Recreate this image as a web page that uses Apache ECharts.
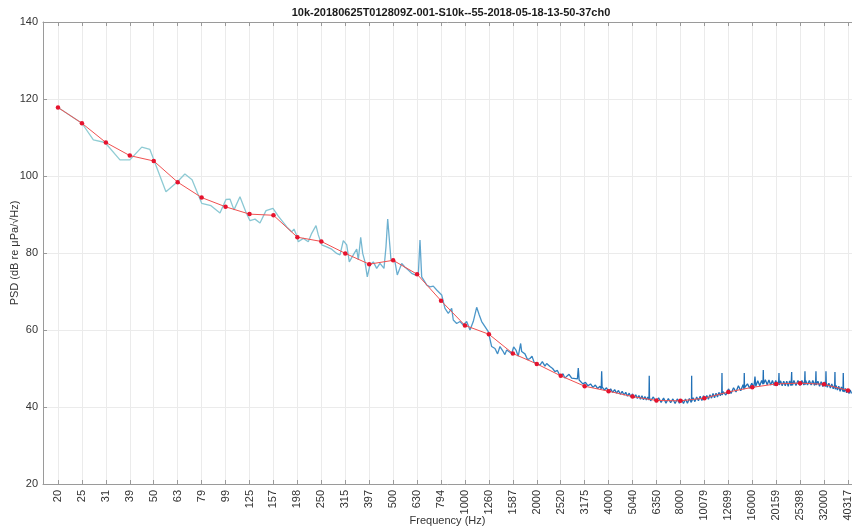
<!DOCTYPE html>
<html><head><meta charset="utf-8">
<script src="https://cdn.jsdelivr.net/npm/echarts@6/dist/echarts.min.js"></script>
<style>html,body{margin:0;padding:0;background:#fff}#c{width:852px;height:531px}</style>
</head><body><div id="c"></div>
<script>
const chartTitle = '10k-20180625T012809Z-001-S10k--55-2018-05-18-13-50-37ch0';
const xName = 'Frequency (Hz)';
const yName = 'PSD (dB re \u03bcPa/\u221aHz)';

// third-octave band centres (Hz) and their tick labels
const bandHz = [19.686, 24.803, 31.25, 39.373, 49.606, 62.5, 78.745, 99.213, 125, 157.49, 198.43, 250, 314.98, 396.85, 500, 629.96, 793.70, 1000, 1259.92, 1587.40, 2000, 2519.84, 3174.80, 4000, 5039.68, 6349.60, 8000, 10079.37, 12699.21, 16000, 20158.74, 25398.42, 32000, 40317.47];
const tickLabels = ['20','25','31','39','50','63','79','99','125','157','198','250','315','397','500','630','794','1000','1260','1587','2000','2520','3175','4000','5040','6350','8000','10079','12699','16000','20159','25398','32000','40317'];
// band levels (dB) — red markers
const bandDb = [117.8, 113.7, 108.7, 105.3, 103.9, 98.4, 94.4, 92.0, 90.1, 89.8, 84.1, 83.0, 79.9, 77.1, 78.1, 74.5, 67.6, 61.2, 58.9, 53.9, 51.2, 48.1, 45.4, 44.1, 42.7, 41.7, 41.6, 42.3, 43.9, 45.1, 46.0, 46.2, 45.9, 44.3];

// PSD trace: [frequency Hz, level dB]
const psdLow = [[19.7,117.8],[24.8,113.7],[27.7,109.4],[31,108.7],[35.8,104.2],[39.4,104.2],[44.2,107.5],[47.8,106.9],[55.8,95.9],[61.9,98.3],[67,100.5],[71.8,99.0],[78.8,92.9],[86.2,92.3],[94,90.4],[99.6,93.9],[103.5,94.0],[107.6,91.2],[114,94.6],[120.8,90.6],[125.6,88.4],[131.8,88.8],[138.3,87.8],[146.6,91.0],[156.8,91.6],[165,89.6],[179.5,86.7],[187.8,85.5],[192,86.2],[197.6,84.4]];
const psdMid = [[200.1,82.9],[210.1,83.8],[220.4,82.9],[227.8,85.1],[237.5,87.1],[242.8,84.7],[250.9,82.1],[263.3,81.6],[276.3,81.0],[290,79.9],[299.4,79.5],[309.1,83.2],[319.4,82.1],[327.5,77.7],[340.4,79.5],[351.8,81.0],[357.2,78.2],[365.6,84.1],[372.7,79.9],[381,77.7],[389.6,73.8],[399.9,76.9],[412.8,77.7],[426.6,76.0],[440.4,77.3],[457.7,76.0],[466.6,81.6],[474.4,88.8],[481.8,88.8],[489.8,78.2],[509,77.7],[520.4,74.3],[543,77.3],[560.6,76.3],[578.7,75.6],[598,74.7],[617.4,74.3],[637.4,74.3],[647.9,83.4],[658.6,73.8],[691.1,71.7],[713.5,71.2],[736.6,71.4],[761.2,70.4]];
const psdUpper = [[798.7,69.1],[824.6,65.6],[851.3,64.3],[879.7,65.6],[893.4,62.6],[923.2,61.7],[953.1,62.2],[984,61.3],[1016.7,62.2],[1049.6,60.0],[1083.5,62.2],[1119.6,65.9],[1148.1,63.9],[1175,62.2],[1213.1,60.9],[1252.3,59.6],[1294.1,55.7],[1336,55.2],[1370,53.8],[1402,55.7],[1440,54.6],[1470,53.6],[1495.5,54.8],[1569.4,53.9],[1600,55.6],[1636,54.8],[1672.7,53.2],[1711.9,56.5],[1728.5,54.4],[1784.4,53.8],[1830,52.3],[1872.6,52.6],[1910,53.2],[1950,51.6],[1984.2,51.3],[2062.3,50.9],[2110,51.8],[2164,50.6],[2199.8,51.3],[2271,50.5],[2330,50.0],[2383.3,49.2],[2440,49.5],[2501,48.1],[2580,48.6],[2620,47.5],[2669.2,47.9],[2730,48.5],[2801,47.5],[2960,47.3],[2985,50.1],[3010,47.0]];
const psdHigh = [[3040,46.9],[3120,46.0],[3200,46.4],[3280,45.5],[3360,46.0],[3440,45.1],[3520,45.7],[3600,44.8],[3680,45.4],[3725,44.7],[3741,49.3],[3757,45.2],[3840,44.4],[3920,45.0],[4000,44.0],[4080,44.7],[4160,43.8],[4240,44.5],[4320,43.6],[4400,44.3],[4480,43.3],[4560,44.1],[4640,43.1],[4720,43.8],[4800,42.8],[4880,43.6],[4960,42.6],[5040,43.4],[5120,42.4],[5200,43.2],[5280,42.2],[5360,43.0],[5440,42.0],[5520,42.9],[5600,41.9],[5680,42.7],[5760,41.8],[5840,42.6],[5905,41.8],[5921,48.1],[5937,42.4],
  [6000,41.6],[6160,42.6],[6320,41.3],[6480,42.4],[6640,41.2],[6800,42.3],[6960,41.0],[7120,42.2],[7280,41.1],[7440,42.1],[7600,40.9],[7760,42.1],[7920,41.0],[8080,42.0],[8240,40.9],[8400,42.1],[8560,41.0],[8720,42.2],[8880,41.2],[8905,41.8],[8916,48.1],[8927,41.5],[9040,42.4],[9200,41.4],[9360,42.6],[9520,41.6],[9680,42.8],[9840,41.7],[10000,42.9],[10160,41.9],[10320,43.0],[10480,42.0],[10640,43.2],[10800,42.3],[10960,43.5],[11120,42.4],[11280,43.6],[11440,42.6],[11600,43.8],[11760,42.9],[11920,43.9],[11948,48.8],[11976,43.1],[12080,44.0],
  [12400,43.1],[12720,44.7],[13040,43.5],[13360,45.0],[13680,43.9],[14000,45.5],[14320,44.2],[14640,45.8],[14780,44.6],[14815,48.8],[14850,45.0],[14960,44.7],[15280,46.0],[15600,44.9],[15920,46.2],[16240,45.1],[16340,46.4],[16427,47.9],[16520,46.2],[16560,45.4],[16880,46.8],[17200,45.5],[17520,46.9],[17750,45.9],[17800,49.6],[17850,46.0],[18160,47.1],[18480,45.8],[18800,47.0],[19120,45.7],[19440,46.9],[19760,45.6],[20080,46.9],[20400,45.6],[20660,46.9],[20712,48.8],[20765,45.7],[21040,46.8],[21360,45.5],[21680,46.7],[22000,45.5],[22320,46.7],[22640,45.4],[22960,46.8],[23280,45.5],[23370,45.8],[23409,49.1],[23450,46.6],[23600,45.6],[23920,46.9],
  [24400,45.6],[24880,46.9],[25360,45.6],[25840,46.9],[26320,45.7],[26550,46.9],[26616,49.3],[26680,45.8],[26800,46.9],[27280,45.7],[27760,46.9],[28240,45.7],[28720,46.9],[29200,45.6],[29520,46.8],[29594,49.3],[29670,45.7],[30160,46.7],[30640,45.4],[31120,46.6],[31600,45.3],[32080,46.5],[32510,45.3],[32594,49.3],[32680,46.3],[33040,45.1],[33520,46.2],[34000,44.9],[34480,46.0],[34960,44.7],[35460,45.8],[35550,49.1],[35640,44.6],[35920,45.6],[36400,44.4],[36880,45.4],[37360,44.1],[37840,45.2],[38420,44.0],[38516,48.8],[38610,44.9],[38800,43.9],[39280,44.8],[39760,43.7],[40240,44.6],[40720,43.5],[41200,44.4],[41700,43.5]];

const yMin = 20, yMax = 140, yStep = 20;
const xMin = 17.035, xMax = 41905;

const chart = echarts.init(document.getElementById('c'), null, {renderer: 'canvas'});
const font = 'Liberation Sans';
const axisColor = '#9a9a9a';
const gridColor = '#ebebeb';
const labelFmt = v => {
  let best = 0;
  for (let j = 1; j < bandHz.length; j++) {
    if (Math.abs(Math.log(bandHz[j] / v)) < Math.abs(Math.log(bandHz[best] / v))) best = j;
  }
  return tickLabels[best];
};
const psdColor = new echarts.graphic.LinearGradient(0, 0, 1, 0, [
  {offset: 0, color: '#93cfd4'},
  {offset: 0.33, color: '#86c4d3'},
  {offset: 0.45, color: '#64a9cf'},
  {offset: 0.57, color: '#3f8cc5'},
  {offset: 0.68, color: '#2473b8'},
  {offset: 1, color: '#1d6cb4'}
]);
const psd = psdLow.concat(psdMid, psdUpper, psdHigh);

chart.setOption({
  animation: false,
  backgroundColor: '#fff',
  title: {
    text: chartTitle, left: 451, top: 7, padding: 0, textAlign: 'center',
    textStyle: {fontFamily: font, fontSize: 11, fontWeight: 'bold', color: '#1a1a1a'}
  },
  grid: {left: 43, right: 0, top: 22, bottom: 47, containLabel: false, outerBoundsMode: 'none'},
  xAxis: [{
    type: 'log', min: xMin, max: xMax,
    name: xName, nameLocation: 'middle', nameGap: 31, nameMoveOverlap: false,
    nameTextStyle: {fontFamily: font, fontSize: 11, color: '#333'},
    axisLine: {show: true, lineStyle: {color: axisColor, width: 1}},
    axisTick: {show: true, inside: true, length: 4, customValues: bandHz, lineStyle: {color: axisColor}},
    axisLabel: {customValues: bandHz, rotate: 90, margin: 6, formatter: labelFmt,
      fontFamily: font, fontSize: 11, color: '#333'},
    splitLine: {show: true, lineStyle: {color: gridColor, width: 1}},
    minorTick: {show: false}, minorSplitLine: {show: false}
  }, {
    type: 'log', min: xMin, max: xMax, position: 'top',
    axisLine: {show: true, lineStyle: {color: axisColor, width: 1}},
    axisTick: {show: true, inside: true, length: 4, customValues: bandHz, lineStyle: {color: axisColor}},
    axisLabel: {show: false},
    splitLine: {show: false}
  }],
  yAxis: [{
    type: 'value', min: yMin, max: yMax, interval: yStep,
    name: yName, nameLocation: 'middle', nameGap: 23, nameRotate: 90, nameMoveOverlap: false,
    nameTextStyle: {fontFamily: font, fontSize: 11, color: '#333'},
    axisLine: {show: true, lineStyle: {color: axisColor, width: 1}},
    axisTick: {show: true, inside: true, length: 4, lineStyle: {color: axisColor}},
    axisLabel: {margin: 5, fontFamily: font, fontSize: 11, color: '#333'},
    splitLine: {show: true, lineStyle: {color: gridColor, width: 1}}
  }],
  series: [{
    type: 'line', name: 'PSD', xAxisIndex: 0, yAxisIndex: 0,
    data: psd,
    showSymbol: false, symbol: 'none', z: 2,
    lineStyle: {width: 1.3, color: psdColor}
  }, {
    type: 'line', name: 'Band level', xAxisIndex: 0, yAxisIndex: 0,
    data: bandHz.map((f, i) => [f, bandDb[i]]),
    symbol: 'circle', symbolSize: 4.5, z: 3,
    itemStyle: {color: '#e5132e'},
    lineStyle: {width: 1, color: '#f05050'}
  }]
});
</script>
</body></html>
